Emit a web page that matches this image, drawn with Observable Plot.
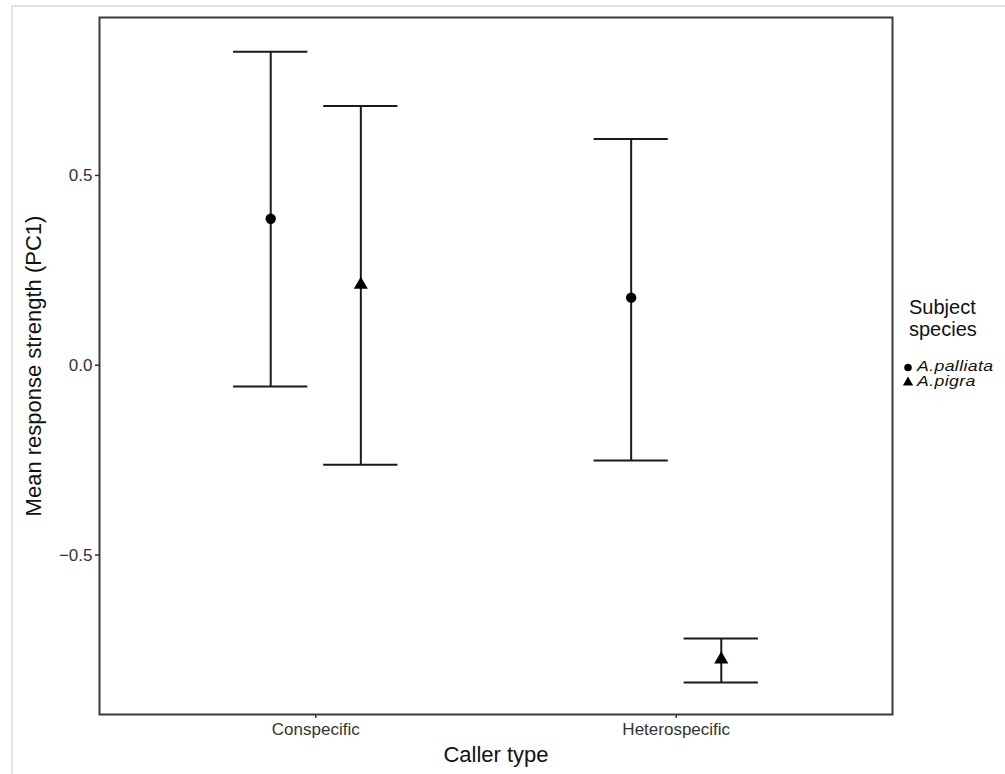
<!DOCTYPE html>
<html>
<head>
<meta charset="utf-8">
<script src="https://cdn.jsdelivr.net/npm/d3@7"></script>
<script src="https://cdn.jsdelivr.net/npm/@observablehq/plot@0.6"></script>
<style>
  html, body { margin: 0; padding: 0; background: #fff; }
  body { width: 1005px; height: 774px; position: relative; overflow: hidden; font-family: "Liberation Sans", Arial, sans-serif; }
  #border { position: absolute; left: 11px; top: 5px; width: 1100px; height: 900px; border-top: 2px solid #e3e3e3; border-left: 2px solid #e3e3e3; }
  #chart { position: absolute; left: 0; top: 0; }
  #legend { position: absolute; left: 903px; top: 296px; color: #111; }
  #legend .title { font-size: 20px; line-height: 22px; margin-bottom: 19px; margin-left: 6px; }
  #legend .item { display: flex; align-items: center; height: 15px; line-height: 15px; font-size: 14.5px; font-style: italic; }
  #legend .item svg { margin-right: 4px; }
  #legend .item span { display: inline-block; transform: scaleX(1.22); transform-origin: left center; letter-spacing: 0.3px; }
</style>
</head>
<body>
<div id="border"></div>
<div id="chart"></div>
<div id="legend"></div>
<script>
// ---- data ----
const callerTypes = ["Conspecific", "Heterospecific"];
const species = ["A.palliata", "A.pigra"];
const caller = ["Conspecific", "Conspecific", "Heterospecific", "Heterospecific"];
const subject = ["A.palliata", "A.pigra", "A.palliata", "A.pigra"];
const meanPC1 = [0.386, 0.212, 0.178, -0.775];
const upperPC1 = [0.826, 0.683, 0.596, -0.720];
const lowerPC1 = [-0.056, -0.262, -0.251, -0.836];
const yTicks = [-0.5, 0, 0.5];
const symbols = ["circle", "triangle"];

// ---- layout helpers ----
const dodge = 0.25;      // dodge width (category units)
const capHalf = 0.103;   // half width of error bar caps

const rows = caller.map((c, i) => ({
  caller: c,
  subject: subject[i],
  mean: meanPC1[i],
  upper: upperPC1[i],
  lower: lowerPC1[i],
  x: callerTypes.indexOf(c) + 1 + (species.indexOf(subject[i]) - 0.5) * dodge
}));

const ink = "#1a1a1a";

const chart = Plot.plot({
  width: 1005,
  height: 774,
  marginLeft: 99,
  marginRight: 113,
  marginTop: 17,
  marginBottom: 60,
  style: { fontFamily: "Liberation Sans, Arial, sans-serif", background: "transparent" },
  x: { type: "linear", domain: [0.4, 2.6] },
  y: { domain: [-0.92, 0.916] },
  symbol: { domain: species, range: symbols },
  marks: [
    Plot.axisY({
      ticks: yTicks, tickFormat: d3.format(".1f"), tickSize: 4, tickPadding: 3,
      fontSize: 17, color: "#333", label: null, strokeWidth: 1.5
    }),
    Plot.axisX({
      ticks: [1, 2], tickFormat: i => callerTypes[i - 1], tickSize: 4, tickPadding: 4,
      fontSize: 17, color: "#333", label: null, strokeWidth: 1.5
    }),
    Plot.ruleX(rows, { x: "x", y1: "lower", y2: "upper", stroke: ink, strokeWidth: 2 }),
    Plot.ruleY(rows, { y: "upper", x1: d => d.x - capHalf, x2: d => d.x + capHalf, stroke: ink, strokeWidth: 2 }),
    Plot.ruleY(rows, { y: "lower", x1: d => d.x - capHalf, x2: d => d.x + capHalf, stroke: ink, strokeWidth: 2 }),
    Plot.dot(rows, { x: "x", y: "mean", symbol: "subject", fill: "#000", stroke: "none", r: 5.2 }),
    Plot.frame({ stroke: "#3a3a3a", strokeWidth: 2 }),
    Plot.text(["Caller type"], { frameAnchor: "bottom", dy: 47, fontSize: 22, fill: "#111" }),
    Plot.text(["Mean response strength (PC1)"], { frameAnchor: "left", textAnchor: "middle", dx: -66, rotate: -90, fontSize: 22, fill: "#111" })
  ]
});
document.getElementById("chart").appendChild(chart);

// ---- legend ----
const legend = d3.select("#legend");
legend.append("div").attr("class", "title").html("Subject<br>species");
species.forEach((s, i) => {
  const item = legend.append("div").attr("class", "item");
  const svg = item.append("svg").attr("width", 10).attr("height", 12);
  svg.append("path")
    .attr("transform", "translate(5,6.5)")
    .attr("d", d3.symbol(i === 0 ? d3.symbolCircle : d3.symbolTriangle, 45)())
    .attr("fill", "#000");
  item.append("span").text(s);
});
</script>
</body>
</html>
